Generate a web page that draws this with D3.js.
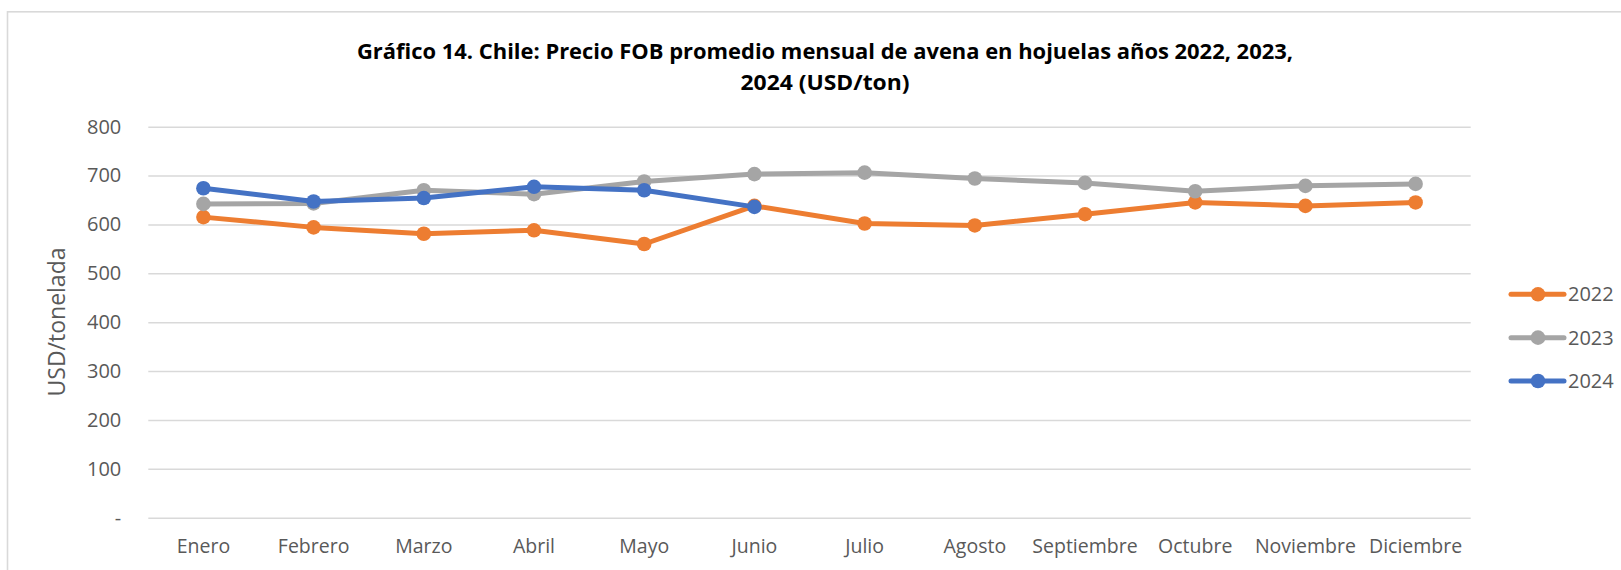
<!DOCTYPE html>
<html>
<head>
<meta charset="utf-8">
<script src="https://cdn.jsdelivr.net/npm/d3@7"></script>
<style>
  body { margin: 0; background: #fff; }
  svg { display: block; font-family: "Open Sans", sans-serif; }
</style>
</head>
<body>
<div id="chart"></div>
<script>
// data
const months = ["Enero", "Febrero", "Marzo", "Abril", "Mayo", "Junio", "Julio",
  "Agosto", "Septiembre", "Octubre", "Noviembre", "Diciembre"];
const years = ["2022", "2023", "2024"];
const v2022 = [615, 594, 581, 588, 560, 638, 602, 598, 621, 645, 638, 645];
const v2023 = [642, 643, 670, 662, 688, 703, 706, 694, 685, 668, 679, 683];
const v2024 = [674, 647, 654, 677, 670, 636];
const yTicks = [0, 100, 200, 300, 400, 500, 600, 700, 800];
const titleLines = ["Gráfico 14. Chile: Precio FOB promedio mensual de avena en hojuelas años 2022, 2023,",
  "2024 (USD/ton)"];
const colors = ["#ED7D31", "#A5A5A5", "#4472C4"];

const width = 1621, height = 570;
const svg = d3.select("#chart").append("svg")
  .attr("width", width).attr("height", height);

// outer chart border (cut off at right and bottom)
svg.append("rect")
  .attr("x", 7.5).attr("y", 11.8)
  .attr("width", 1700).attr("height", 700)
  .attr("fill", "none").attr("stroke", "#D9D9D9").attr("stroke-width", 1.6);

const x = d3.scaleBand().domain(months).range([148.3, 1470.7]);
const y = d3.scaleLinear().domain([0, 800]).range([517.7, 126.7]);

// title
svg.append("g").selectAll("text")
  .data(titleLines)
  .join("text")
  .attr("x", 825)
  .attr("y", (d, i) => 59 + i * 31)
  .attr("text-anchor", "middle")
  .attr("font-weight", "bold")
  .attr("font-size", 22)
  .attr("fill", "#000")
  .attr("textLength", (d, i) => i == 0 ? 936 : 169)
  .attr("lengthAdjust", "spacingAndGlyphs")
  .text(d => d);

// gridlines + y labels
const yAxis = d3.axisLeft(y).tickValues(yTicks)
  .tickSize(-(1470.7 - 148.3))
  .tickPadding(27)
  .tickFormat(d => d == 0 ? "-" : d);
const gy = svg.append("g").attr("transform", "translate(148.3,0)").call(yAxis);
gy.select(".domain").remove();
gy.selectAll(".tick line").attr("stroke", "#D9D9D9").attr("stroke-width", 1.5);
gy.selectAll(".tick text")
  .attr("font-size", 20).attr("fill", "#595959")
  .attr("font-family", "Open Sans, sans-serif");

// x labels
const xAxis = d3.axisBottom(x).tickSize(0).tickPadding(21);
const gx = svg.append("g").attr("transform", "translate(0,517.7)").call(xAxis);
gx.select(".domain").remove();
gx.selectAll(".tick text")
  .attr("font-size", 19.5).attr("fill", "#595959")
  .attr("font-family", "Open Sans, sans-serif");

// y axis title
svg.append("text")
  .attr("transform", "translate(65,322) rotate(-90)")
  .attr("text-anchor", "middle")
  .attr("font-size", 23)
  .attr("fill", "#595959")
  .text("USD/tonelada");

// series
const series = [v2022, v2023, v2024];
const line = d3.line()
  .x((d, i) => x(months[i]) + x.bandwidth() / 2)
  .y(d => y(d));

series.forEach((vals, s) => {
  const g = svg.append("g");
  g.append("path")
    .datum(vals)
    .attr("d", line)
    .attr("fill", "none")
    .attr("stroke", colors[s])
    .attr("stroke-width", 5)
    .attr("stroke-linejoin", "round");
  g.selectAll("circle")
    .data(vals)
    .join("circle")
    .attr("cx", (d, i) => x(months[i]) + x.bandwidth() / 2)
    .attr("cy", d => y(d))
    .attr("r", 7.3)
    .attr("fill", colors[s]);
});

// legend
const legendY = d3.scalePoint().domain(years).range([294.3, 381]);
const lg = svg.append("g").selectAll("g")
  .data(years)
  .join("g")
  .attr("transform", d => `translate(0,${legendY(d)})`);
lg.append("line")
  .attr("x1", 1511).attr("x2", 1564)
  .attr("stroke", (d, i) => colors[i])
  .attr("stroke-width", 5)
  .attr("stroke-linecap", "round");
lg.append("circle")
  .attr("cx", 1538).attr("r", 7.3)
  .attr("fill", (d, i) => colors[i]);
lg.append("text")
  .attr("x", 1568).attr("dy", "0.35em")
  .attr("font-size", 20)
  .attr("fill", "#595959")
  .text(d => d);
</script>
</body>
</html>
